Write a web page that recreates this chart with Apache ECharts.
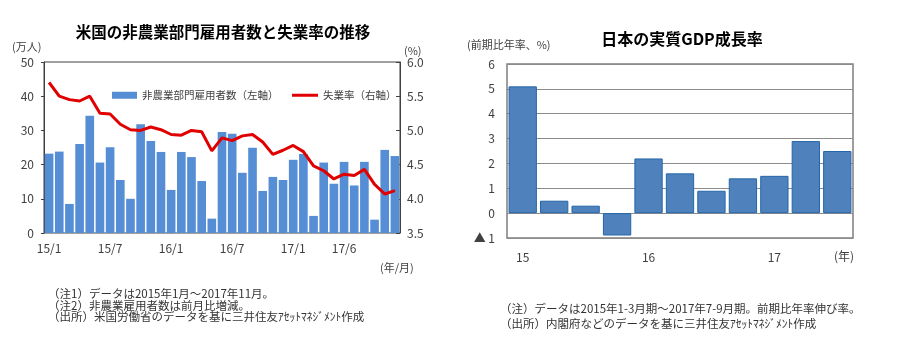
<!DOCTYPE html>
<html><head><meta charset="utf-8">
<script src="https://cdn.jsdelivr.net/npm/echarts@6/dist/echarts.min.js"></script>
<style>html,body{margin:0;padding:0;background:#fff}#c{width:906px;height:349px}</style>
</head><body><div id="c"></div>
<script>
var months = ['15/1','15/2','15/3','15/4','15/5','15/6','15/7','15/8','15/9','15/10','15/11','15/12',
  '16/1','16/2','16/3','16/4','16/5','16/6','16/7','16/8','16/9','16/10','16/11','16/12',
  '17/1','17/2','17/3','17/4','17/5','17/6','17/7','17/8','17/9','17/10','17/11'];
var payrolls = [23.2,23.8,8.5,26.0,34.3,20.6,25.1,15.5,10.0,31.8,26.9,23.7,
  12.6,23.7,22.2,15.2,4.2,29.5,29.0,17.6,24.9,12.3,16.4,15.5,
  21.4,23.1,5.0,20.6,14.4,20.8,13.9,20.8,3.9,24.3,22.5];
var unemp = [5.70,5.50,5.45,5.43,5.50,5.25,5.24,5.09,5.01,5.00,5.05,5.01,
  4.94,4.93,5.00,4.98,4.70,4.89,4.85,4.92,4.94,4.83,4.65,4.71,
  4.78,4.69,4.48,4.41,4.29,4.36,4.34,4.43,4.21,4.07,4.12];
var monthLabelIdx = [0,6,12,18,24,29];
var quarters = ['15/1-3','15/4-6','15/7-9','15/10-12','16/1-3','16/4-6','16/7-9','16/10-12','17/1-3','17/4-6','17/7-9'];
var gdp = [5.1,0.5,0.3,-0.9,2.2,1.6,0.9,1.4,1.5,2.9,2.5];
var quarterLabels = {0:'15',4:'16',8:'17'};

var FONT = '"Noto Sans CJK JP", sans-serif';
var chart = echarts.init(document.getElementById('c'));
var axisTxt = {color:'#404040', fontSize:12, fontFamily:FONT};
var legendTxt = {fontSize:10.5, color:'#404040', fontFamily:FONT};
chart.setOption({
  animation:false,
  textStyle:{fontFamily:FONT},
  title:[
    {text:'米国の非農業部門雇用者数と失業率の推移', left:218, top:19, textAlign:'center',
     textStyle:{fontSize:15.5, fontWeight:'bold', color:'#000', fontFamily:FONT}},
    {text:'日本の実質GDP成長率', left:677, top:26, textAlign:'center',
     textStyle:{fontSize:16, fontWeight:'bold', color:'#000', fontFamily:FONT}}
  ],
  legend:[
    {left:107, top:85, itemWidth:25, itemHeight:7, textStyle:legendTxt,
     data:[{name:'非農業部門雇用者数（左軸）', icon:'rect'}]},
    {left:287, top:85, itemWidth:26, itemHeight:3, textStyle:legendTxt,
     data:[{name:'失業率（右軸）', icon:'rect'}]}
  ],
  grid:[
    {left:44, top:62, width:356, height:171, show:true, borderColor:'#404040', borderWidth:1},
    {left:507, top:64, width:346, height:174, show:true, borderColor:'#7f7f7f', borderWidth:1.5}
  ],
  xAxis:[
    {type:'category', gridIndex:0, data:months, boundaryGap:true,
     axisLine:{show:false}, axisTick:{show:false},
     axisLabel:Object.assign({margin:9, interval:function(i){return monthLabelIdx.indexOf(i)>=0;}}, axisTxt)},
    {type:'category', gridIndex:1, data:quarters, boundaryGap:true, position:'bottom',
     axisLine:{show:false, onZero:false}, axisTick:{show:false},
     axisLabel:Object.assign({margin:13, interval:0, formatter:function(v,i){return quarterLabels[i]||'';}}, axisTxt)}
  ],
  yAxis:[
    {type:'value', gridIndex:0, min:0, max:50, interval:10, position:'left',
     axisLine:{show:true, lineStyle:{color:'#404040'}}, axisTick:{show:true, length:3, lineStyle:{color:'#404040'}},
     splitLine:{show:false}, axisLabel:Object.assign({margin:10}, axisTxt)},
    {type:'value', gridIndex:0, min:3.5, max:6.0, interval:0.5, position:'right',
     axisLine:{show:true, lineStyle:{color:'#404040'}}, axisTick:{show:true, inside:true, length:4, lineStyle:{color:'#404040'}},
     splitLine:{show:false}, axisLabel:Object.assign({margin:7, formatter:function(v){return v.toFixed(1);}}, axisTxt)},
    {type:'value', gridIndex:1, min:-1, max:6, interval:1,
     axisLine:{show:false}, axisTick:{show:false},
     splitLine:{show:true, lineStyle:{color:'#8c8c8c', width:1}},
     axisLabel:Object.assign({margin:12, formatter:function(v){return v<0?'▲ '+(-v):String(v);}}, axisTxt)}
  ],
  series:[
    {name:'非農業部門雇用者数（左軸）', type:'bar', xAxisIndex:0, yAxisIndex:0, data:payrolls,
     barCategoryGap:'15%', itemStyle:{color:'#558ed5'}},
    {name:'失業率（右軸）', type:'line', xAxisIndex:0, yAxisIndex:1, data:unemp,
     symbol:'none', lineStyle:{color:'#e00000', width:3}, itemStyle:{color:'#e00000'}, z:5},
    {name:'GDP', type:'bar', xAxisIndex:1, yAxisIndex:2, data:gdp,
     barCategoryGap:'10%', itemStyle:{color:'#4f81bd', borderColor:'#2466a8', borderWidth:1}}
  ],
  graphic:[
    {type:'text', left:12, top:41, style:{text:'(万人)', fontSize:11, fill:'#404040', fontFamily:FONT}},
    {type:'text', left:404, top:45, style:{text:'(%)', fontSize:11, fill:'#404040', fontFamily:FONT}},
    {type:'text', left:380, top:262, style:{text:'(年/月)', fontSize:11, fill:'#404040', fontFamily:FONT}},
    {type:'text', left:48, top:288, style:{text:'（注1）データは2015年1月～2017年11月。\n（注2）非農業雇用者数は前月比増減。\n（出所）米国労働省のデータを基に三井住友ｱｾｯﾄﾏﾈｼﾞﾒﾝﾄ作成',
      fontSize:11.5, lineHeight:11.5, fill:'#333', fontFamily:FONT}},
    {type:'text', left:467, top:39, style:{text:'(前期比年率、%)', fontSize:11, fill:'#404040', fontFamily:FONT}},
    {type:'text', left:834, top:250, style:{text:'(年)', fontSize:12, fill:'#404040', fontFamily:FONT}},
    {type:'text', left:500, top:301, style:{text:'（注）データは2015年1-3月期～2017年7-9月期。前期比年率伸び率。\n（出所）内閣府などのデータを基に三井住友ｱｾｯﾄﾏﾈｼﾞﾒﾝﾄ作成',
      fontSize:11.5, lineHeight:15, fill:'#333', fontFamily:FONT}}
  ]
});
</script></body></html>
